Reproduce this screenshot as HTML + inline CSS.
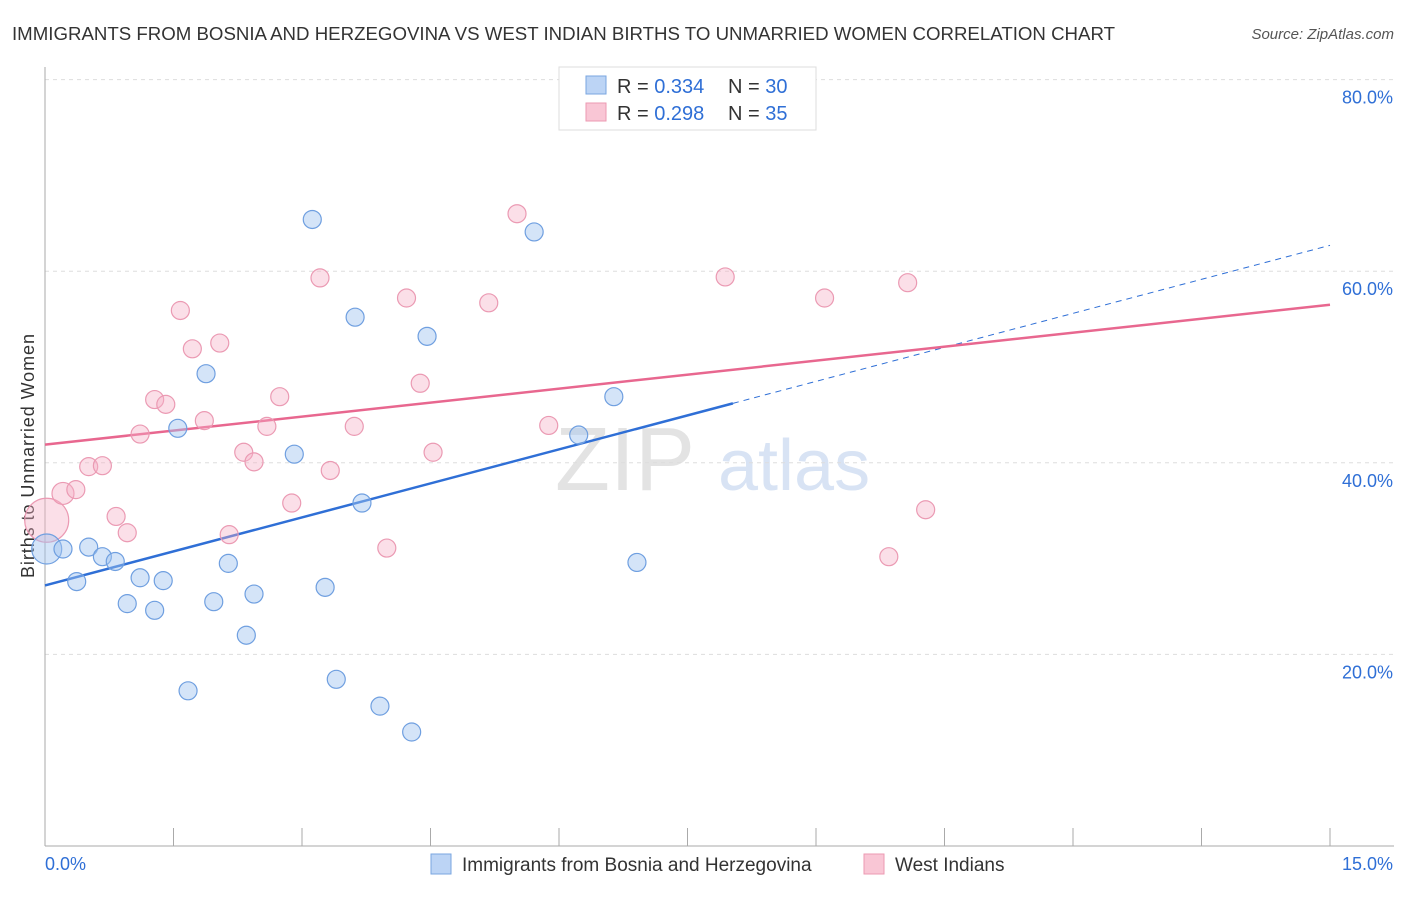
<!DOCTYPE html>
<html><head><meta charset="utf-8"><style>
body{margin:0;background:#fff;font-family:"Liberation Sans",sans-serif;}
svg text{font-family:"Liberation Sans",sans-serif;}
</style></head><body>
<svg id="chart" width="1406" height="892" xmlns="http://www.w3.org/2000/svg">
<text x="12" y="40" font-size="18" fill="#333" textLength="1103" lengthAdjust="spacingAndGlyphs">IMMIGRANTS FROM BOSNIA AND HERZEGOVINA VS WEST INDIAN BIRTHS TO UNMARRIED WOMEN CORRELATION CHART</text>
<text x="1394" y="39" font-size="15" fill="#555" text-anchor="end" font-style="italic">Source: ZipAtlas.com</text>
<text x="0" y="0" transform="translate(34,456) rotate(-90)" font-size="18" fill="#333" text-anchor="middle" textLength="244">Births to Unmarried Women</text>
<g><text x="555" y="490" font-size="90" fill="#ddd" font-family="Liberation Serif" opacity="0.8">ZIP</text><text x="718" y="490" font-size="72" fill="#c8d8f0" opacity="0.7">atlas</text></g>
<g id="grid"></g><g id="axes"></g><g id="lines"></g><g id="pts"></g>
<g>
<rect x="559" y="67" width="257" height="63" fill="#fff" stroke="#ddd"/>
<rect x="586" y="76" width="20" height="18" fill="#bcd4f5" stroke="#7aa6e0"/>
<rect x="586" y="103" width="20" height="18" fill="#f9c6d5" stroke="#ec9ab2"/>
<text x="617" y="93" font-size="20" fill="#333">R = <tspan fill="#2f6fd6">0.334</tspan></text>
<text x="728" y="93" font-size="20" fill="#333">N = <tspan fill="#2f6fd6">30</tspan></text>
<text x="617" y="120" font-size="20" fill="#333">R = <tspan fill="#2f6fd6">0.298</tspan></text>
<text x="728" y="120" font-size="20" fill="#333">N = <tspan fill="#2f6fd6">35</tspan></text>
</g>
<g>
<rect x="431" y="854" width="20" height="20" fill="#bcd4f5" stroke="#7aa6e0"/>
<text x="462" y="871" font-size="19" fill="#333">Immigrants from Bosnia and Herzegovina</text>
<rect x="864" y="854" width="20" height="20" fill="#f9c6d5" stroke="#ec9ab2"/>
<text x="895" y="871" font-size="19" fill="#333">West Indians</text>
</g>
</svg>
<script>
const xTickLabels=["0.0%","15.0%"];
const yTicks=[20,40,60,80];
const blueX=[0.02,0.21,0.37,0.51,0.67,0.82,0.96,1.11,1.28,1.38,1.55,1.67,1.88,1.97,2.14,2.35,2.44,2.91,3.12,3.27,3.40,3.62,3.70,3.91,4.28,4.46,5.71,6.23,6.64,6.91];
const blueY=[31.0,31.0,27.6,31.2,30.2,29.7,25.3,28.0,24.6,27.7,43.6,16.2,49.3,25.5,29.5,22.0,26.3,40.9,65.4,27.0,17.4,55.2,35.8,14.6,11.9,53.2,64.1,42.9,46.9,29.6];
const blueR=[15,9,9,9,9,9,9,9,9,9,9,9,9,9,9,9,9,9,9,9,9,9,9,9,9,9,9,9,9,9];
const pinkX=[0.02,0.21,0.36,0.51,0.67,0.83,0.96,1.11,1.28,1.41,1.58,1.72,1.86,2.04,2.15,2.32,2.44,2.59,2.74,2.88,3.21,3.33,3.61,3.99,4.22,4.38,4.53,5.18,5.51,5.88,7.94,9.10,9.85,10.07,10.28];
const pinkY=[34.0,36.8,37.2,39.6,39.7,34.4,32.7,43.0,46.6,46.1,55.9,51.9,44.4,52.5,32.5,41.1,40.1,43.8,46.9,35.8,59.3,39.2,43.8,31.1,57.2,48.3,41.1,56.7,66.0,43.9,59.4,57.2,30.2,58.8,35.1];
const pinkR=[22,11,9,9,9,9,9,9,9,9,9,9,9,9,9,9,9,9,9,9,9,9,9,9,9,9,9,9,9,9,9,9,9,9,9];
const blueTrend=[27.2,62.7]; const blueSolidEnd=8.03;
const pinkTrend=[41.9,56.5];
const NS="http://www.w3.org/2000/svg";
const X=v=>45+v/15*1285, Y=v=>846-v*9.58;
function mk(tag,attrs,parent){const e=document.createElementNS(NS,tag);for(const k in attrs)e.setAttribute(k,attrs[k]);document.getElementById(parent).appendChild(e);return e;}
yTicks.forEach(t=>{
 const g=mk('line',{x1:45,x2:1394,y1:Y(t),y2:Y(t),stroke:'#ddd','stroke-dasharray':'4,4'},'grid');
 
 
 const l=mk('text',{x:1393,y:Y(t)+24,'font-size':18,fill:'#2f6fd6','text-anchor':'end'},'grid');l.textContent=t.toFixed(1)+'%';
 
 
});
mk('line',{x1:45,x2:45,y1:67,y2:846,stroke:'#aaa'},'axes');
mk('line',{x1:45,x2:1394,y1:846,y2:846,stroke:'#aaa'},'axes');
for(let i=0;i<=10;i++){const t=mk('line',{x1:X(i*1.5),x2:X(i*1.5),y1:828,y2:846,stroke:'#aaa'},'axes');
 
 }
const xl0=mk('text',{x:45,y:870,'font-size':18,fill:'#2f6fd6'},'axes');xl0.textContent=xTickLabels[0];


const xl1=mk('text',{x:1393,y:870,'font-size':18,fill:'#2f6fd6','text-anchor':'end'},'axes');xl1.textContent=xTickLabels[1];


function addPts(xs,ys,rs,fill,stroke,name){xs.forEach((x,i)=>{const c=mk('circle',{cx:X(x),cy:Y(ys[i]),r:rs[i],fill:fill,stroke:stroke,'stroke-width':1.2},'pts');
 
 });}
addPts(pinkX,pinkY,pinkR,'rgba(246,176,198,0.4)','#eb9ab3','west-indian-point');
addPts(blueX,blueY,blueR,'rgba(160,196,240,0.45)','#6f9fe0','bosnia-point');
const bs=blueTrend[0]+(blueTrend[1]-blueTrend[0])*blueSolidEnd/15;
const b1=mk('line',{x1:X(0),y1:Y(blueTrend[0]),x2:X(blueSolidEnd),y2:Y(bs),stroke:'#2f6fd6','stroke-width':2.5},'lines');


const b2=mk('line',{x1:X(blueSolidEnd),y1:Y(bs),x2:X(15),y2:Y(blueTrend[1]),stroke:'#2f6fd6','stroke-width':1,'stroke-dasharray':'6,5'},'lines');


const p1=mk('line',{x1:X(0),y1:Y(pinkTrend[0]),x2:X(15),y2:Y(pinkTrend[1]),stroke:'#e8678f','stroke-width':2.5},'lines');


</script>
</body></html>
